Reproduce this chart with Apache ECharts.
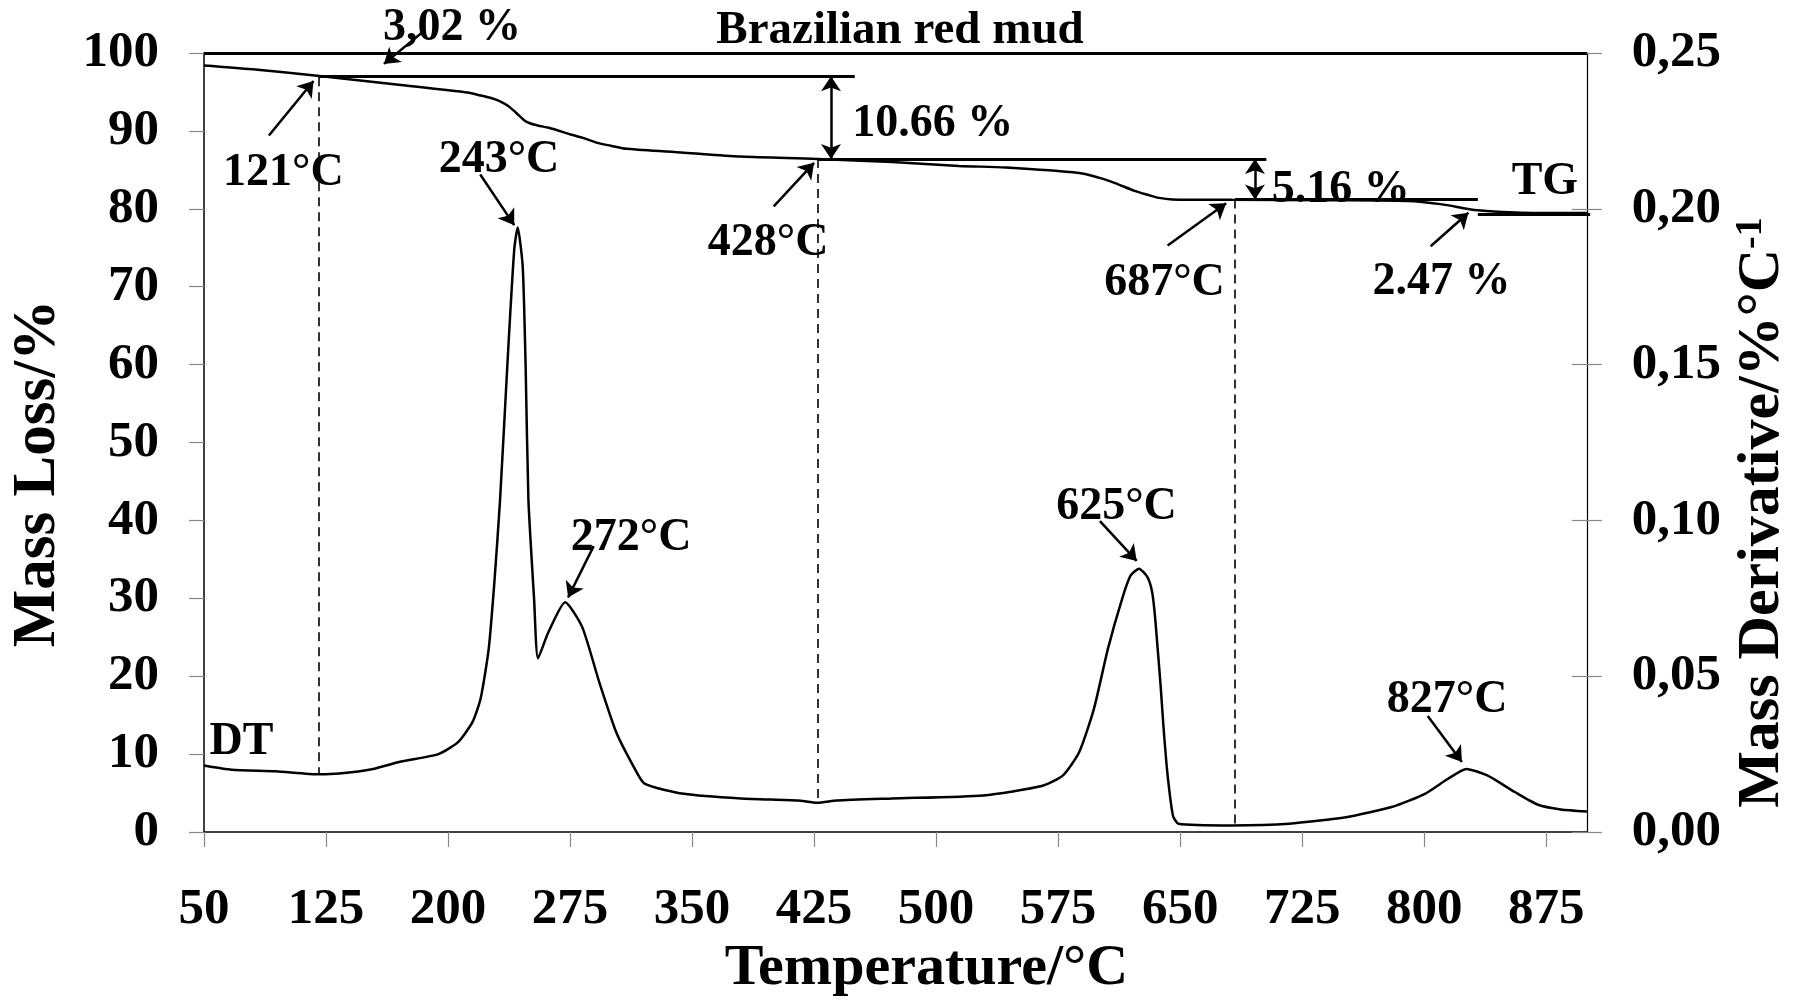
<!DOCTYPE html>
<html>
<head>
<meta charset="utf-8">
<script src="https://cdn.jsdelivr.net/npm/echarts@6/dist/echarts.min.js"></script>
<style>
html,body{margin:0;padding:0;background:#fff;}
#chart{width:1800px;height:1003px;}
</style>
</head>
<body>
<div id="chart"></div>
<script>
// ---------- data ----------
const tgTemp = [50, 80, 121, 171, 213, 218, 227, 232, 237, 242, 248, 255, 262, 276, 283, 293, 300, 310, 345, 380, 427, 473, 514, 543, 588, 600, 610, 622, 630, 637, 645, 682, 740, 790, 810, 833, 860, 900];
const tgMass = [98.4, 97.9, 97.05, 95.9, 94.9, 94.65, 94.2, 93.8, 93.2, 92.3, 91.2, 90.7, 90.4, 89.5, 89.1, 88.4, 88.1, 87.7, 87.2, 86.7, 86.4, 86.0, 85.5, 85.3, 84.6, 84.0, 83.3, 82.3, 81.8, 81.4, 81.2, 81.15, 81.1, 81.0, 80.6, 79.8, 79.5, 79.45];

const dtgTemp = [50, 67, 94, 121, 133, 154, 171, 194, 206, 215, 220, 225, 228.5, 232, 237, 240.7, 242.8, 245.9, 247.7, 249.4, 252.9, 255.3, 261.6, 272, 282.5, 293, 303.4, 313.8, 320.8, 345, 380, 415, 427, 439, 473, 529, 565, 578, 588, 597, 605.6, 614.3, 619.5, 624.7, 630, 632.8, 634.5, 636.2, 638, 639.7, 642.1, 645.6, 649, 682, 717, 752, 780, 800.5, 814.4, 826, 838.8, 856, 870, 884, 900];
const dtgRate = [0.02135, 0.0200, 0.0195, 0.0185, 0.01875, 0.02025, 0.0226, 0.0250, 0.02875, 0.03525, 0.04275, 0.05875, 0.08025, 0.10675, 0.155, 0.187, 0.194, 0.1815, 0.1495, 0.10675, 0.07475, 0.05575, 0.064, 0.07375, 0.06575, 0.048, 0.032, 0.02125, 0.0155, 0.01225, 0.01075, 0.0101, 0.0094, 0.0101, 0.01075, 0.01175, 0.01475, 0.01815, 0.02565, 0.0395, 0.05875, 0.07475, 0.08225, 0.0845, 0.08175, 0.077, 0.0695, 0.05875, 0.047, 0.03425, 0.01925, 0.00525, 0.00265, 0.0021, 0.00265, 0.00475, 0.008, 0.01225, 0.017, 0.02025, 0.01815, 0.01275, 0.00875, 0.00725, 0.0066];

const xTickLabels = [50, 125, 200, 275, 350, 425, 500, 575, 650, 725, 800, 875];

// annotation texts and their anchor (temperature, mass %)
const noteTexts = ['3,02 %', '121°C', '243°C', '10.66 %', '428°C', '272°C', '625°C', '687°C', '5.16 %', '2.47 %', '827°C', 'TG', 'DT'];
const noteTemp  = [202.4, 98.8, 231.3, 498, 396.7, 312.5, 610.9, 640.4, 748.7, 810.7, 814.1, 874.2, 73];
const noteMass  = [103.2, 84.6, 86.3, 90.9, 75.6, 37.7, 41.7, 70.5, 82.4, 70.6, 16.9, 83.4, 11.5];

// mass-loss step levels: [fromTemp, toTemp, mass %]
const stepLevels = [[50, 900, 100], [120.7, 450, 97.0], [427.5, 703, 86.4], [683.8, 833, 81.2], [833, 902, 79.35]];
// single arrows: [fromTemp, fromMass, toTemp, toMass]
const arrows = [[185, 102.8, 160.6, 98.6], [89.9, 89.4, 117.3, 96.4], [219.8, 84.4, 240.7, 77.9], [289.5, 36.7, 273.8, 30.1], [400.2, 80.3, 425, 85.9], [600.7, 39.9, 623.3, 34.8], [642.3, 75.3, 678.3, 80.7], [804, 75.2, 827.2, 79.5], [802.2, 14.9, 823.2, 9.0]];
// double arrows: [temp, fromMass, toMass]
const doubleArrows = [[435.4, 97.0, 86.4], [696, 86.4, 81.2]];
// dashed markers: [temp, fromMass, toMass]
const dashMarkers = [[120.7, 96.9, 7.4], [427.2, 86.4, 3.8], [683.5, 81.2, 0.85]];

// ---------- chart ----------
const FONT = "'Liberation Serif','Times New Roman',serif";
const chart = echarts.init(document.getElementById('chart'));

const txt = (size) => ({ fontFamily: FONT, fontWeight: 'bold', fontSize: size, color: '#000' });

const option = {
  animation: false,
  backgroundColor: '#fff',
  title: {
    text: 'Brazilian red mud',
    left: 'center',
    top: 7,
    padding: 0,
    textStyle: txt(47)
  },
  grid: { left: 202, right: 197, top: 53, bottom: 170, containLabel: false },
  xAxis: {
    type: 'value',
    min: 50, max: 900, interval: 75,
    name: 'Temperature/°C',
    nameLocation: 'middle',
    nameGap: 108,
    nameTextStyle: Object.assign(txt(58), { padding: [0, 0, 0, 62] }),
    axisLine: { show: true, onZero: false, lineStyle: { color: '#000', width: 1.5 } },
    axisTick: { show: true, inside: false, length: 15, customValues: xTickLabels, lineStyle: { color: '#888', width: 1.2 } },
    axisLabel: Object.assign(txt(51), { margin: 52, customValues: xTickLabels }),
    splitLine: { show: false }
  },
  yAxis: [
    {
      type: 'value', position: 'left',
      min: 0, max: 100, interval: 10,
      name: 'Mass Loss/%',
      nameLocation: 'middle',
      nameRotate: 90,
      nameGap: 135,
      nameTextStyle: Object.assign(txt(61), { padding: [0, 62, 0, 0] }),
      axisLine: { show: true, lineStyle: { color: '#000', width: 1.5 } },
      axisTick: { show: true, inside: false, length: 15, lineStyle: { color: '#888', width: 1.2 } },
      axisLabel: Object.assign(txt(51), { margin: 45 }),
      splitLine: { show: false }
    },
    {
      type: 'value', position: 'right',
      min: 0, max: 0.25, interval: 0.05,
      name: 'Mass Derivative/%°C{sup|-1}',
      nameLocation: 'middle',
      nameRotate: 90,
      nameGap: 136,
      nameTextStyle: Object.assign(txt(60), {
        padding: [0, 140, 0, 0],
        rich: { sup: { fontFamily: FONT, fontWeight: 'bold', fontSize: 38, color: '#000', verticalAlign: 'top', padding: [0, 0, 22, 0] } }
      }),
      axisLine: { show: true, lineStyle: { color: '#000', width: 1.2 } },
      axisTick: { show: true, inside: false, length: 15, lineStyle: { color: '#888', width: 1.2 } },
      axisLabel: Object.assign(txt(51), { margin: 45, formatter: (v) => v.toFixed(2).replace('.', ',') }),
      splitLine: { show: false }
    },
    {
      type: 'value', position: 'right',
      min: 0, max: 0.25, interval: 0.05,
      axisLine: { show: false },
      axisTick: { show: true, inside: true, length: 15, lineStyle: { color: '#888', width: 1.2 } },
      axisLabel: { show: false },
      splitLine: { show: false }
    }
  ],
  series: [
    {
      name: 'TG', type: 'line', xAxisIndex: 0, yAxisIndex: 0,
      data: tgTemp.map((t, i) => [t, tgMass[i]]),
      showSymbol: false, smooth: 0.3, silent: true,
      lineStyle: { color: '#000', width: 2.5 }, z: 3
    },
    {
      name: 'DTG', type: 'line', xAxisIndex: 0, yAxisIndex: 1,
      data: dtgTemp.map((t, i) => [t, dtgRate[i]]),
      showSymbol: false, smooth: 0.2, silent: true,
      lineStyle: { color: '#000', width: 2.5 }, z: 3
    },
    {
      name: 'steps', type: 'lines', coordinateSystem: 'cartesian2d', xAxisIndex: 0, yAxisIndex: 0,
      clip: false, silent: true, symbol: ['none', 'none'],
      lineStyle: { color: '#000', width: 3, opacity: 1, curveness: 0 },
      data: stepLevels.map(s => ({ coords: [[s[0], s[2]], [s[1], s[2]]] })), z: 4
    },
    {
      name: 'arrows', type: 'lines', coordinateSystem: 'cartesian2d', xAxisIndex: 0, yAxisIndex: 0,
      clip: false, silent: true, symbol: ['none', 'arrow'], symbolSize: 15,
      lineStyle: { color: '#000', width: 2.5, opacity: 1, curveness: 0 },
      data: arrows.map(a => ({ coords: [[a[0], a[1]], [a[2], a[3]]] })), z: 5
    },
    {
      name: 'doubleArrows', type: 'lines', coordinateSystem: 'cartesian2d', xAxisIndex: 0, yAxisIndex: 0,
      clip: false, silent: true, symbol: ['arrow', 'arrow'], symbolSize: 15,
      lineStyle: { color: '#000', width: 2.5, opacity: 1, curveness: 0 },
      data: doubleArrows.map(a => ({ coords: [[a[0], a[1]], [a[0], a[2]]] })), z: 5
    },
    {
      name: 'markers', type: 'lines', coordinateSystem: 'cartesian2d', xAxisIndex: 0, yAxisIndex: 0,
      clip: false, silent: true, symbol: ['none', 'none'],
      lineStyle: { color: '#000', width: 1.6, type: [9, 6], opacity: 1, curveness: 0 },
      data: dashMarkers.map(d => ({ coords: [[d[0], d[1]], [d[0], d[2]]] })), z: 2
    },
    {
      name: 'notes', type: 'scatter', xAxisIndex: 0, yAxisIndex: 0,
      clip: false, silent: true, symbolSize: 0,
      itemStyle: { color: '#000', opacity: 1 },
      data: noteTexts.map((n, i) => ({ name: n, value: [noteTemp[i], noteMass[i]] })),
      label: Object.assign(txt(46), { show: true, position: 'inside', formatter: '{b}', opacity: 1, textBorderWidth: 0, textBorderColor: 'transparent' }),
      z: 6
    }
  ]
};
chart.setOption(option);
</script>
</body>
</html>
